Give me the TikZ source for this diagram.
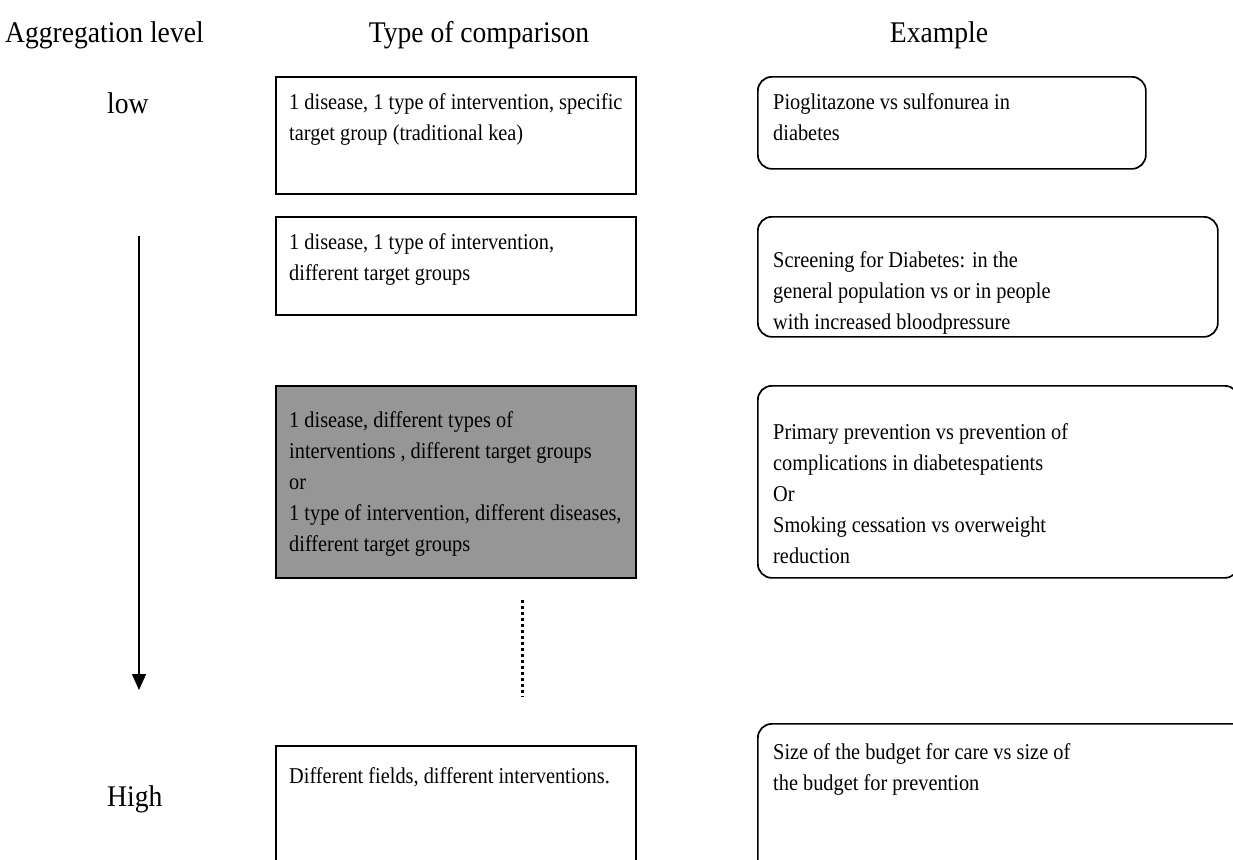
\documentclass[tikz,border=0pt]{standalone}
\usepackage{fontspec}
\setmainfont{Liberation Serif}
\newfontfamily\boxfnt[FakeStretch=0.9]{Liberation Serif}
\newfontfamily\headfnt[FakeStretch=0.92]{Liberation Serif}
\usetikzlibrary{arrows.meta}
\definecolor{shade}{RGB}{150,150,150}
\begin{document}
\begin{tikzpicture}[x=1pt,y=-1pt,
  lbl/.style={font=\headfnt\fontsize{30}{36}\selectfont, inner sep=0},
  sq/.style={draw, line width=1.7pt, rectangle, inner sep=0, anchor=north west},
  rnd/.style={draw, line width=1.7pt, rectangle, rounded corners=14pt, inner sep=0, anchor=north west},
  txt/.style={anchor=north west, inner sep=0, align=left, font=\boxfnt\fontsize{22.6}{31}\selectfont}]
\useasboundingbox (0,0) rectangle (1233,859);
\clip (0,0) rectangle (1233,859);
% headers
\node[lbl, anchor=base west] (h1) at (5,43) {Aggregation level};
\node[lbl, anchor=base] (h2) at (479,43) {Type of comparison};
\node[lbl, anchor=base] (h3) at (939,43) {Example};
\node[lbl, anchor=base west] (low) at (107,113) {low};
\node[lbl, anchor=base west] (high) at (107,806) {High};
% left boxes
\node[sq, minimum width=360pt, minimum height=117pt] (b1) at (275,76) {};
\node[sq, minimum width=360pt, minimum height=98pt] (b2) at (275,216) {};
\node[sq, fill=shade, minimum width=360pt, minimum height=192pt] (b3) at (275,385) {};
\node[sq, minimum width=360pt, minimum height=150pt] (b4) at (275,745) {};
% right boxes
\node[rnd, minimum width=388pt, minimum height=92pt] (r1) at (757,76) {};
\node[rnd, minimum width=460pt, minimum height=120pt] (r2) at (757,216) {};
\node[rnd, minimum width=481pt, minimum height=192pt] (r3) at (757,385) {};
\node[rnd, minimum width=490pt, minimum height=170pt] (r4) at (757,723) {};
% texts
\node[txt] (t1) at (289,93) {1 disease, 1 type of intervention, specific\\target group (traditional kea)};
\node[txt] (t2) at (289,233) {1 disease, 1 type of intervention,\\different target groups};
\node[txt] (t3) at (289,411) {1 disease, different types of\\interventions , different target groups\\or\\1 type of intervention, different diseases,\\different target groups};
\node[txt] (t4) at (289,767) {Different fields, different interventions.};
\node[txt] (e1) at (773,93) {Pioglitazone vs sulfonurea in\\diabetes};
\node[txt] (e2) at (773,251) {Screening for Diabetes: in the\\general population vs or in people\\with increased bloodpressure};
\node[txt] (e3) at (773,423) {Primary prevention vs prevention of\\complications in diabetespatients\\Or\\Smoking cessation vs overweight\\reduction};
\node[txt] (e4) at (773,743) {Size of the budget for care vs size of\\the budget for prevention};
% arrow and dotted line
\coordinate (atop) at (139,236);
\coordinate (abot) at (139,690);
\draw[line width=1.6pt, -{Triangle[width=14pt,length=16pt]}] (atop) -- (abot);
\coordinate (dtop) at (522,600);
\coordinate (dbot) at (522,697);
\draw[line width=3pt, dash pattern=on 3pt off 3pt] (dtop) -- (dbot);
\end{tikzpicture}
\end{document}
